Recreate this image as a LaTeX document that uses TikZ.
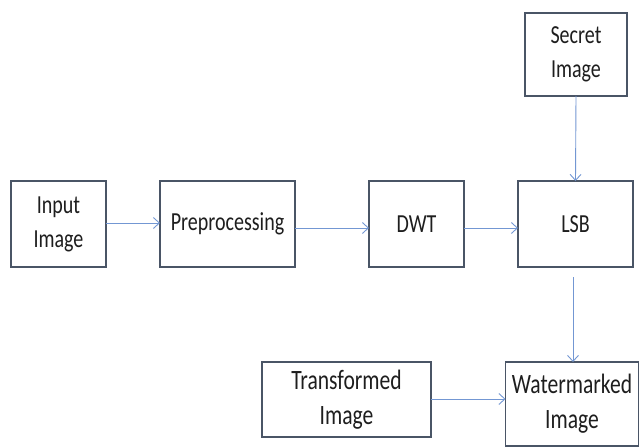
\documentclass[tikz,border=0pt]{standalone}
\usepackage{fontspec}
\setmainfont{Carlito}
\newfontfamily\labelfont[FakeStretch=0.77]{Carlito}
\usetikzlibrary{arrows.meta}
\definecolor{boxline}{HTML}{4A5566}
\definecolor{flow}{HTML}{7397D3}
\definecolor{txt}{HTML}{1E1E1E}
\begin{document}
\begin{tikzpicture}[x=1pt,y=-1pt,
  block/.style={draw=boxline,line width=1.3pt,fill=white,inner sep=0pt,outer sep=0pt,
    align=center,font=\labelfont\fontsize{26}{34}\selectfont,text=txt},
  bigblock/.style={block,font=\labelfont\fontsize{28}{35}\selectfont},
  link/.style={draw=flow,line width=0.9pt,-{Straight Barb[length=6pt,width=11pt,line width=0.9pt]}}]
\useasboundingbox (0,0) rectangle (640,447);
\node[block,minimum width=95pt,minimum height=86pt] (in) at (58.5,224) {Input\\Image};
\node[block,minimum width=135pt,minimum height=86pt] (pre) at (227.5,224) {Preprocessing};
\node[block,minimum width=95pt,minimum height=86pt] (dwt) at (416.5,224) {DWT};
\node[block,minimum width=115pt,minimum height=86pt] (lsb) at (575.5,224) {LSB};
\node[block,minimum width=102pt,minimum height=83pt] (sec) at (576,54.5) {Secret\\Image};
\node[bigblock,minimum width=169pt,minimum height=75pt] (trans) at (346.5,399.5) {Transformed\\Image};
\node[bigblock,minimum width=133pt,minimum height=84pt] (wm) at (572,404) {Watermarked\\Image};
\coordinate (lsbout) at (573,277);
\draw[link] (in.east |- 0,223) -- (pre.west |- 0,223);
\draw[link] (pre.east |- 0,228) -- (dwt.west |- 0,228);
\draw[link] (dwt.east |- 0,228) -- (lsb.west |- 0,228);
\draw[link] (sec.south) -- (lsb.north);
\draw[link] (lsbout) -- (lsbout |- wm.north);
\draw[link] (trans.east |- 0,399) -- (wm.west |- 0,399);
\end{tikzpicture}
\end{document}
